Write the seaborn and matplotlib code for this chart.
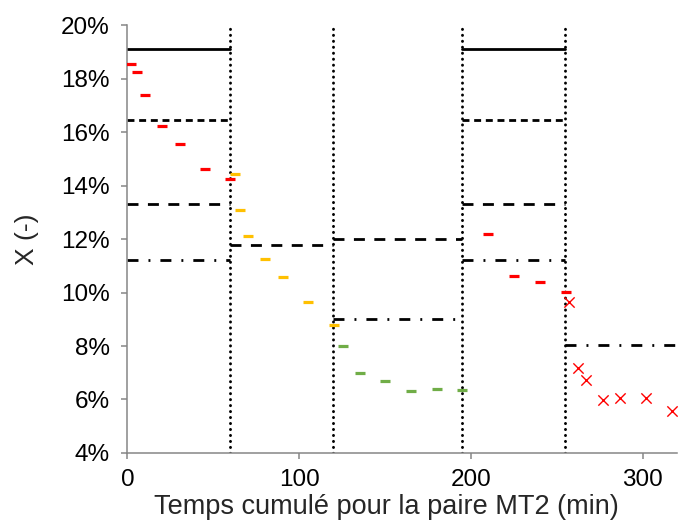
import matplotlib
matplotlib.use("Agg")
import matplotlib.pyplot as plt
import seaborn as sns
import numpy as np
import pandas as pd
from matplotlib.ticker import FuncFormatter

# ---------------- data ----------------
red1_t = [2.3, 5.5, 10.5, 20.4, 30.5, 45.4, 60.0]
red1_x = [18.54, 18.24, 17.39, 16.22, 15.55, 14.60, 14.25]

orange_t = [62.5, 65.4, 70.4, 80.3, 90.4, 105.3, 120.2]
orange_x = [14.44, 13.07, 12.10, 11.26, 10.57, 9.64, 8.80]

green_t = [125.3, 135.4, 150.2, 165.3, 180.2, 195.1]
green_x = [7.99, 6.99, 6.70, 6.31, 6.39, 6.37]

red2_t = [210.1, 225.1, 240.0, 255.2]
red2_x = [12.19, 10.63, 10.40, 10.01]

redx_t = [256.9, 262.1, 267.2, 276.9, 286.6, 302.0, 317.3]
redx_x = [9.63, 7.17, 6.72, 5.97, 6.04, 6.07, 5.56]

# reference segments: (start, end, value)
solid_seg = [(0, 60, 19.1), (195, 255, 19.1)]
shortdash_seg = [(0, 60, 16.45), (195, 255, 16.45)]
longdash_seg = [(0, 60, 13.3), (60, 120, 11.76), (120, 195, 12.0), (195, 255, 13.3)]
dashdot_seg = [(0, 60, 11.2), (120, 195, 9.02), (195, 255, 11.2), (255, 320, 8.04)]

vlines_t = [60, 120, 195, 255]

x_ticks = [0, 100, 200, 300]
y_ticks = [4, 6, 8, 10, 12, 14, 16, 18, 20]

# ---------------- style ----------------
sns.set_style("white")
plt.rcParams['font.family'] = ['Liberation Sans', 'DejaVu Sans']
plt.rcParams['lines.scale_dashes'] = False

fig = plt.figure(figsize=(6.78, 5.22), dpi=100)
ax = fig.add_axes([0.1878, 0.1322, 0.8107, 0.8198])

# vertical dotted separators
for t in vlines_t:
    ax.plot([t, t], [4, 20], color='black', lw=2.1, linestyle=(0, (0.15, 4.15)),
            dash_capstyle='round', solid_capstyle='round', zorder=1)

def draw(segs, **kw):
    for a, b, v in segs:
        ax.plot([a, b], [v, v], color='black', zorder=2, **kw)

draw(solid_seg, lw=2.0, linestyle='-')
draw(shortdash_seg, lw=2.0, linestyle=(0, (5.0, 3.4)))
draw(longdash_seg, lw=2.0, linestyle=(0, (7.9, 6.8)))
draw(dashdot_seg, lw=2.0, linestyle=(0, (7.9, 7.2, 1.4, 7.2)))

# markers
mk = dict(marker='_', s=62, linewidth=2.3, zorder=3, legend=False)
sns.scatterplot(x=red1_t, y=red1_x, color='#FF0000', ax=ax, **mk)
sns.scatterplot(x=orange_t, y=orange_x, color='#FFC000', ax=ax, **mk)
sns.scatterplot(x=green_t, y=green_x, color='#70AD47', ax=ax, **mk)
sns.scatterplot(x=red2_t, y=red2_x, color='#FF0000', ax=ax, **mk)
sns.scatterplot(x=redx_t, y=redx_x, color='#FF0000', marker='x', s=55,
                linewidth=1.0, ax=ax, zorder=3, legend=False)

ax.set_xlim(0, 320)
ax.set_ylim(4, 20)
ax.set_xticks(x_ticks)
ax.set_yticks(y_ticks)
ax.yaxis.set_major_formatter(FuncFormatter(lambda v, p: f"{v:.0f}%"))

for s in ['top', 'right']:
    ax.spines[s].set_visible(False)
for s in ['left', 'bottom']:
    ax.spines[s].set_color('#868686')
    ax.spines[s].set_linewidth(1.1)
ax.tick_params(axis='both', direction='out', length=4.5, width=1.1, color='#868686',
               labelsize=17.5, labelcolor='black', left=True, bottom=True)
ax.tick_params(axis='y', pad=8)
ax.tick_params(axis='x', pad=7)

ax.set_xlabel("Temps cumulé pour la paire MT2 (min)", fontsize=19.5)
ax.set_ylabel("X (-)", fontsize=19)
ax.xaxis.set_label_coords(0.472, -0.095)
ax.yaxis.set_label_coords(-0.16, 0.5)

fig.savefig("out.png", dpi=100)
